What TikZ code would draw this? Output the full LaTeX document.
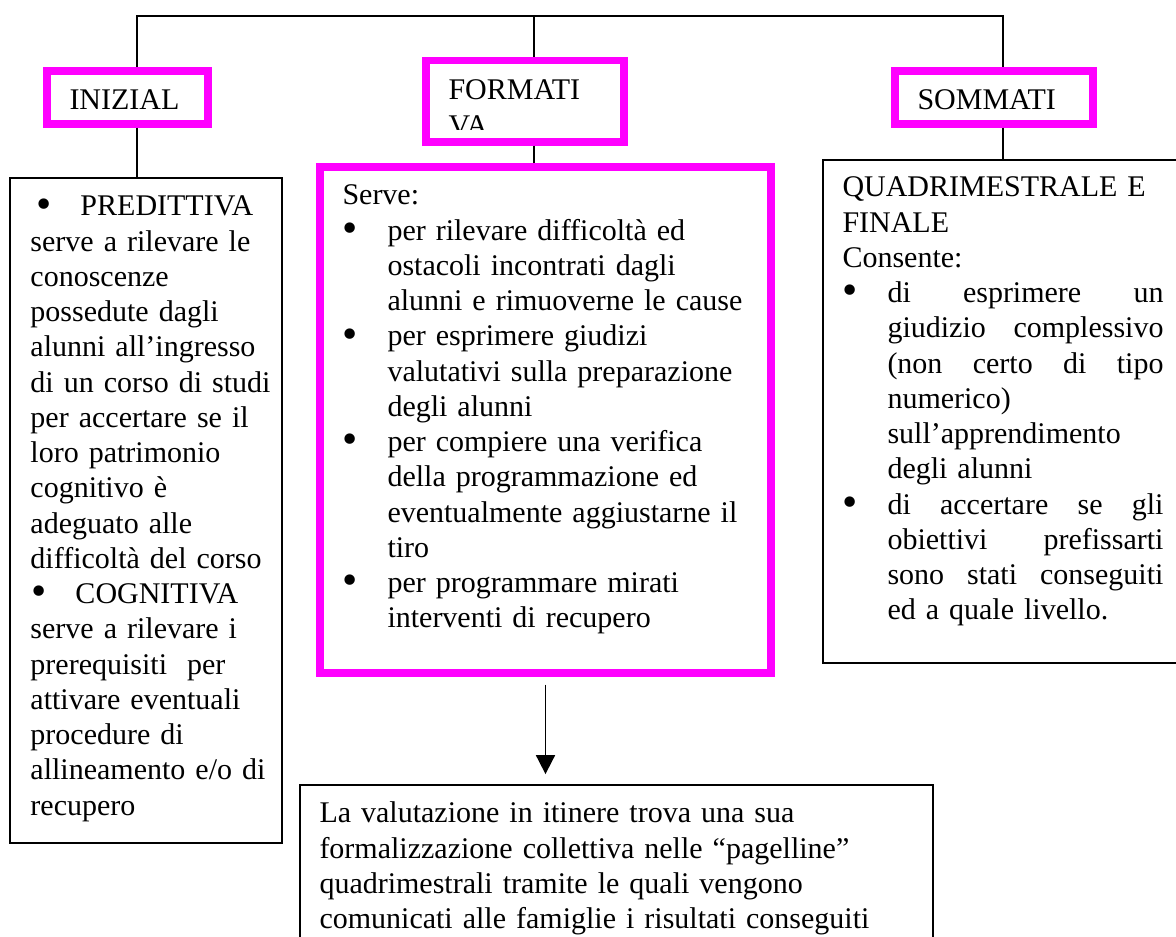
\documentclass[tikz,border=0pt]{standalone}
\usepackage{fontspec}
\setmainfont{Liberation Serif}
\usetikzlibrary{arrows.meta,fit}

\newcommand{\txtfont}{\fontsize{12}{14.1}\selectfont}
\newcommand{\bigdot}{\raisebox{-0.9pt}{\scalebox{1.45}{\textbullet}}}
\newcommand{\blt}{\makebox[18pt][l]{\bigdot}}
\newcommand{\hng}{\hspace*{18pt}}
\newcommand{\jst}[1]{\makebox[110.4pt][s]{#1}}

\begin{document}
\begin{tikzpicture}[x=0.4pt,y=-0.4pt,
    hdbox/.style={inner sep=0pt,draw=kMagenta,line width=3pt},
    plainbox/.style={inner sep=0pt,draw=black,line width=0.7pt},
    txt/.style={inner sep=0pt,anchor=base west,text width=#1,font=\txtfont},
    txt/.default=200pt,
    conn/.style={draw=black,line width=0.7pt},
    arr/.style={conn,-{Triangle[length=7.6pt,width=7.6pt]}}]
  \definecolor{kMagenta}{rgb}{1,0,1}
  \clip (0,0) rectangle (1176,937);

  % headers
  \node[hdbox, fit={(47,71) (208,124)}] (inizial) {};
  \node[hdbox, fit={(426,60.5) (624,142)}] (formativa) {};
  \node[hdbox, fit={(895,71) (1093,124)}] (sommativa) {};
  \node[txt] (inizlbl) at (69,110) {INIZIAL};
  \begin{scope}
    \clip (429,65) rectangle (620,130);
    \node[txt] (formlbl) at (448,100) {FORMATI\\VA};
  \end{scope}
  \node[txt] (sommlbl) at (917,110) {SOMMATI};

  % boxes below
  \node[plainbox, fit={(10,178) (282,843)}] (inizbody) {};
  \node[hdbox, fit={(320,167) (771,673)}] (formbody) {};
  \node[plainbox, fit={(823,160) (1200,663)}] (sommbody) {};
  \node[plainbox, fit={(300,785) (933,990)}] (esito) {};

  \node[txt=110pt] (iniztext) at (30,216) {%
    \hspace*{2.4pt}\makebox[17.6pt][l]{\bigdot}PREDITTIVA\\
    serve a rilevare le\\
    conoscenze\\
    possedute dagli\\
    alunni all’ingresso\\
    di un corso di studi\\
    per accertare se il\\
    loro patrimonio\\
    cognitivo è\\
    adeguato alle\\
    difficoltà del corso\\
    \hspace*{0.4pt}\makebox[17.6pt][l]{\bigdot}COGNITIVA\\
    serve a rilevare i\\
    prerequisiti\ \ per\\
    attivare eventuali\\
    procedure di\\
    allineamento e/o di\\
    recupero};
  \node[txt=180pt] (formtext) at (342,205) {%
    Serve:\\
    \blt per rilevare difficoltà ed\\
    \hng ostacoli incontrati dagli\\
    \hng alunni e rimuoverne le cause\\
    \blt per esprimere giudizi\\
    \hng valutativi sulla preparazione\\
    \hng degli alunni\\
    \blt per compiere una verifica\\
    \hng della programmazione ed\\
    \hng eventualmente aggiustarne il\\
    \hng tiro\\
    \blt per programmare mirati\\
    \hng interventi di recupero};
  \node[txt=135pt] (sommtext) at (842,197) {%
    QUADRIMESTRALE E\\
    FINALE\\
    Consente:\\
    \blt\jst{di\hfill esprimere\hfill un}\\
    \hng\jst{giudizio\hfill complessivo}\\
    \hng\jst{(non\hfill certo\hfill di\hfill tipo}\\
    \hng numerico)\\
    \hng sull’apprendimento\\
    \hng degli alunni\\
    \blt\jst{di\hfill accertare\hfill se\hfill gli}\\
    \hng\jst{obiettivi\hfill prefissarti}\\
    \hng\jst{sono\hfill stati\hfill conseguiti}\\
    \hng ed a quale livello.};
  \node[txt=250pt] (esitotext) at (319,823) {%
    La valutazione in itinere trova una sua\\
    formalizzazione collettiva nelle “pagelline”\\
    quadrimestrali tramite le quali vengono\\
    comunicati alle famiglie i risultati conseguiti};

  % connectors
  \coordinate (tl) at (137,16);
  \coordinate (tm) at (534,16);
  \coordinate (tr) at (1003,16);
  \draw[conn] (inizial.north -| tl) -- (tl) -- (tr) -- (sommativa.north -| tr);
  \draw[conn] (tm) -- (formativa.north -| tm);
  \draw[conn] (inizial.south -| tl) -- (inizbody.north -| tl);
  \draw[conn] (formativa.south -| tm) -- (formbody.north -| tm);
  \draw[conn] (sommativa.south -| tr) -- (sommbody.north -| tr);
  \draw[arr, shorten <=3.2pt, shorten >=4pt] (formbody.south) -- (formbody.south |- esito.north);
\end{tikzpicture}
\end{document}
